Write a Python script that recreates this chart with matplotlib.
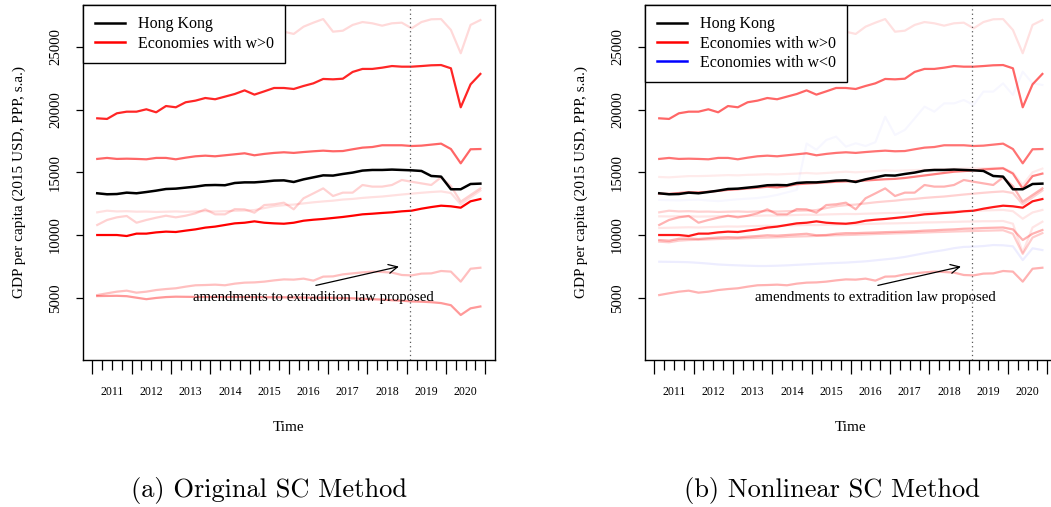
import numpy as np
import matplotlib.pyplot as plt

plt.rcParams['font.family'] = ['Liberation Serif', 'DejaVu Serif']

# quarterly series, 2011Q1 .. 2020Q4 (GDP per capita, 2015 USD, PPP, s.a.)
t = 2011.125 + 0.25 * np.arange(40)
event_time = 2019 + 1 / 12
years = list(range(2011, 2021))

hk = [13330, 13250, 13270, 13380, 13330, 13430, 13540, 13670, 13700, 13780,
      13860, 13970, 13990, 13970, 14150, 14200, 14200, 14260, 14340, 14360,
      14230, 14440, 14600, 14760, 14740, 14870, 14980, 15140, 15190, 15190,
      15220, 15190, 15160, 15110, 14710, 14660, 13650, 13650, 14070, 14100]

top_faint = [25100, 25050, 25300, 25400, 25350, 25500, 25450, 25600, 25550, 25700,
             25750, 25850, 25800, 25900, 26000, 26100, 26000, 26150, 26250, 26220,
             26040, 26620, 26940, 27230, 26220, 26300, 26760, 26990, 26890, 26700,
             26890, 26940, 26490, 26990, 27210, 27230, 26360, 24500, 26760, 27150]

red_a = [19310, 19260, 19710, 19840, 19840, 20030, 19790, 20290, 20190, 20590,
         20720, 20930, 20830, 21040, 21250, 21540, 21200, 21460, 21730, 21730,
         21650, 21890, 22100, 22450, 22420, 22470, 23010, 23250, 23250, 23350,
         23480, 23430, 23430, 23480, 23540, 23560, 23300, 20190, 22020, 22850]

red_b = [16070, 16150, 16070, 16090, 16070, 16040, 16150, 16150, 16040, 16170,
         16280, 16330, 16280, 16360, 16440, 16520, 16360, 16470, 16550, 16600,
         16550, 16620, 16680, 16730, 16680, 16700, 16840, 16970, 17020, 17160,
         17160, 17160, 17100, 17130, 17210, 17290, 16860, 15720, 16840, 16860]

red_c = [10000, 10000, 10000, 9920, 10110, 10110, 10210, 10270, 10240, 10350,
         10450, 10590, 10670, 10800, 10930, 10980, 11090, 10980, 10930, 10900,
         10980, 11140, 11220, 11280, 11360, 11440, 11540, 11650, 11700, 11760,
         11810, 11890, 11940, 12100, 12230, 12340, 12290, 12180, 12690, 12870]

pink_a = [11810, 11940, 11880, 11900, 11860, 11870, 11840, 11860, 11880, 11850,
          11880, 11910, 11870, 11900, 11930, 11950, 11990, 12150, 12300, 12380,
          12430, 12520, 12610, 12680, 12740, 12830, 12880, 12960, 13020, 13070,
          13150, 13230, 13300, 13370, 13430, 13480, 13350, 12450, 13000, 13550]

pink_b = [10800, 11200, 11410, 11520, 10980, 11200, 11380, 11540, 11410, 11540,
          11730, 12050, 11650, 11650, 12070, 12050, 11780, 12390, 12450, 12580,
          12050, 12930, 13320, 13720, 13110, 13380, 13380, 13990, 13860, 13860,
          13990, 14390, 14250, 14120, 13990, 14600, 13900, 12660, 13190, 13720]

pink_c = [5210, 5350, 5480, 5560, 5400, 5480, 5610, 5690, 5750, 5880,
          5990, 6010, 6040, 5990, 6120, 6200, 6220, 6280, 6380, 6460,
          6440, 6520, 6360, 6680, 6700, 6860, 6940, 7020, 7080, 7050,
          7000, 6810, 6780, 6920, 6940, 7130, 7080, 6280, 7310, 7390]

pink_d = [5130, 5140, 5150, 5120, 5000, 4880, 4980, 5050, 5080, 5070,
          5060, 5050, 5060, 5050, 5060, 5050, 5040, 5040, 5030, 5030,
          5020, 5010, 5000, 5000, 4990, 4970, 4950, 4920, 4880, 4850,
          4800, 4760, 4700, 4680, 4640, 4570, 4400, 3620, 4150, 4300]

# extra donors used by the nonlinear method
red_hk = [13300, 13280, 13350, 13420, 13400, 13450, 13520, 13600, 13650, 13720,
          13780, 13850, 13800, 13900, 14050, 14100, 14150, 14200, 14250, 14280,
          14300, 14350, 14400, 14450, 14480, 14550, 14650, 14750, 14850, 14950,
          15050, 15100, 15150, 15230, 15280, 15320, 14900, 13700, 14700, 14900]

pink_e = [14630, 14600, 14650, 14700, 14700, 14720, 14750, 14780, 14760, 14800,
          14820, 14850, 14830, 14870, 14900, 14950, 14900, 14950, 15000, 15050,
          15000, 15050, 15100, 15150, 15120, 15150, 15180, 15200, 15220, 15250,
          15280, 15300, 15320, 15330, 15350, 15360, 15000, 14000, 15000, 15300]

pink_f = [11490, 11480, 11500, 11490, 11470, 11480, 11500, 11510, 11500, 11520,
          11540, 11560, 11550, 11570, 11600, 11620, 11610, 11640, 11660, 11680,
          11670, 11700, 11720, 11750, 11760, 11780, 11800, 11830, 11850, 11870,
          11900, 11920, 11940, 11960, 11980, 12000, 11900, 11300, 11800, 12000]

pink_g = [10560, 10580, 10600, 10620, 10600, 10630, 10650, 10680, 10670, 10700,
          10720, 10740, 10730, 10760, 10780, 10800, 10790, 10820, 10840, 10860,
          10850, 10880, 10900, 10920, 10930, 10950, 10970, 11000, 11010, 11030,
          11050, 11070, 11080, 11100, 11100, 11120, 10900, 8600, 10600, 11060]

pink_h = [9600, 9550, 9700, 9720, 9680, 9750, 9800, 9830, 9800, 9870,
          9920, 9980, 9950, 10000, 10050, 10100, 9980, 10000, 10100, 10150,
          10150, 10180, 10200, 10230, 10250, 10280, 10300, 10350, 10380, 10420,
          10450, 10500, 10520, 10560, 10580, 10600, 10450, 9600, 10100, 10400]

pink_i = [9470, 9420, 9550, 9600, 9620, 9650, 9680, 9700, 9720, 9750,
          9780, 9800, 9820, 9850, 9880, 9900, 9930, 9950, 9980, 10000,
          10020, 10050, 10080, 10100, 10130, 10150, 10180, 10200, 10230, 10250,
          10280, 10300, 10320, 10340, 10360, 10380, 10100, 8500, 9800, 10150]

blue_a = [7870, 7860, 7850, 7830, 7780, 7720, 7650, 7610, 7580, 7550,
          7530, 7530, 7550, 7580, 7620, 7660, 7700, 7740, 7770, 7800,
          7850, 7900, 7980, 8060, 8140, 8250, 8400, 8550, 8680, 8800,
          8950, 9050, 9070, 9120, 9200, 9180, 9100, 8000, 8940, 8800]

blue_b = [12800, 12780, 12760, 12800, 12820, 12750, 12700, 12780, 12850, 12900,
          12950, 13050, 13200, 13400, 13600, 17300, 16800, 17580, 17850, 17050,
          17320, 17100, 17400, 19440, 17980, 18380, 19300, 20240, 19840, 20500,
          20500, 20770, 20370, 21440, 21440, 22100, 21170, 23030, 22100, 21970]

# (series, colour, alpha) for each panel
panel_a = [(top_faint, 'red', 0.15), (pink_a, 'red', 0.12), (pink_b, 'red', 0.18),
           (pink_c, 'red', 0.25), (pink_d, 'red', 0.4), (red_b, 'red', 0.6),
           (red_a, 'red', 0.85), (red_c, 'red', 1.0)]
panel_b = [(blue_b, 'blue', 0.03), (blue_a, 'blue', 0.07), (top_faint, 'red', 0.12),
           (pink_e, 'red', 0.08), (pink_f, 'red', 0.1), (pink_g, 'red', 0.1),
           (pink_a, 'red', 0.18), (pink_i, 'red', 0.2), (pink_h, 'red', 0.3),
           (pink_b, 'red', 0.3), (pink_c, 'red', 0.3), (red_hk, 'red', 0.5),
           (red_b, 'red', 0.55), (red_a, 'red', 0.6), (red_c, 'red', 0.9)]

fig = plt.figure(figsize=(10.51, 5.07), dpi=100)
W, H = 1051, 507
ax_a = fig.add_axes([83 / W, (H - 360) / H, 412 / W, 355 / H])
ax_b = fig.add_axes([645 / W, (H - 360) / H, 412 / W, 355 / H])


def draw_panel(ax, lines, negative):
    for vals, col, a in lines:
        ax.plot(t, vals, color=col, alpha=a, lw=1.6)
    ax.plot(t, hk, color='black', lw=1.8)
    ax.axvline(event_time, color='0.35', lw=0.9, ls=(0, (1, 2.5)))
    ax.annotate('', xy=(2018.87, 7530), xytext=(2016.62, 5930),
                arrowprops=dict(arrowstyle='->', lw=0.9, color='black',
                                mutation_scale=16))
    ax.text(2016.62, 5000, 'amendments to extradition law proposed',
            ha='center', va='center', fontsize=10.6)

    ax.set_xlim(2010.763, 2021.247)
    ax.set_ylim(29, 28350)
    ax.set_xticks(np.arange(2011, 2022))
    ax.set_xticklabels([])
    ax.set_xticks(np.arange(2011, 2021.01, 0.25), minor=True)
    ax.tick_params(axis='x', which='major', length=10, width=0.9)
    ax.tick_params(axis='x', which='minor', length=7, width=0.9)
    for yr in years:
        ax.text(yr + 0.5, -0.09, str(yr), transform=ax.get_xaxis_transform(),
                ha='center', va='center', fontsize=8.5)
    ax.set_yticks([5000, 10000, 15000, 20000, 25000])
    ax.tick_params(axis='y', length=5, width=0.9, pad=10, labelsize=10.6)
    for lab in ax.get_yticklabels():
        lab.set_rotation(90)
        lab.set_va('center')
    for s in ax.spines.values():
        s.set_linewidth(1.0)

    ax.set_xlabel('Time', fontsize=11)
    ax.xaxis.set_label_coords(0.5, -0.172)
    ax.set_ylabel('GDP per capita (2015 USD, PPP, s.a.)', fontsize=11)
    ax.yaxis.set_label_coords(-0.138, 0.5)

    handles = [plt.Line2D([], [], color='black', lw=1.8),
               plt.Line2D([], [], color='red', lw=1.8)]
    labels = ['Hong Kong', 'Economies with w>0']
    if negative:
        handles.append(plt.Line2D([], [], color='blue', lw=1.8))
        labels.append('Economies with w<0')
    leg = ax.legend(handles, labels, loc='upper left', bbox_to_anchor=(0, 1),
                    borderaxespad=0, fancybox=False, framealpha=1,
                    edgecolor='black', fontsize=11.5, handlelength=1.9,
                    handletextpad=0.8, borderpad=0.72, labelspacing=0.2)
    leg.get_frame().set_linewidth(1.0)


draw_panel(ax_a, panel_a, False)
draw_panel(ax_b, panel_b, True)

fig.text(269 / W, 1 - 490 / H, '(a) Original SC Method', family='cmr10',
         fontsize=19, ha='center', va='center')
fig.text(832 / W, 1 - 490 / H, '(b) Nonlinear SC Method', family='cmr10',
         fontsize=19, ha='center', va='center')

fig.savefig('out.png', dpi=100)
